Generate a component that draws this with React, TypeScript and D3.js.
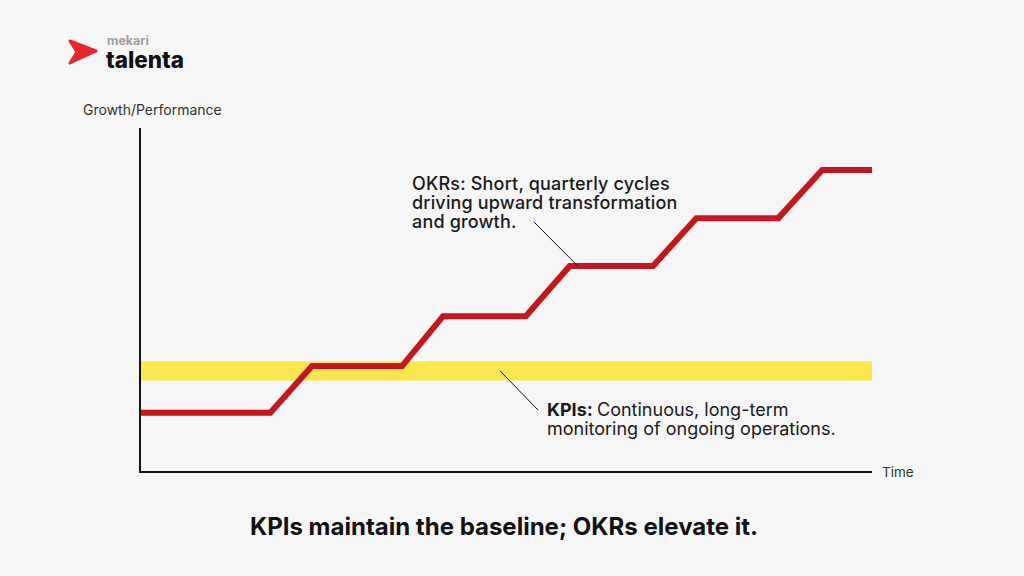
import * as d3 from 'd3'

const width = 1024
const height = 576

// OKR staircase: time (0-100) and growth level (0-100)
const okrTime = [0, 17.8, 23.5, 35.8, 41.4, 52.7, 58.7, 70.1, 76, 87.2, 93.2, 100]
const okrLevel = [17.2, 17.2, 30.8, 30.8, 45.3, 45.3, 59.9, 59.9, 73.8, 73.8, 87.8, 87.8]

// KPI baseline band
const kpiLevel = 29.4
const kpiBand = 2.8

const okrNote = ['OKRs: Short, quarterly cycles', 'driving upward transformation', 'and growth.']
const kpiNote = ['Continuous, long-term', 'monitoring of ongoing operations.']

const font = 'Inter, "Noto Sans", sans-serif'

const x = d3.scaleLinear().domain([0, 100]).range([140, 872])
const y = d3.scaleLinear().domain([0, 100]).range([472, 128])

const okrLine = d3
  .line<number>()
  .x((_, i) => x(okrTime[i]))
  .y((d) => y(d))

function App() {
  return (
    <svg
      width={width}
      height={height}
      style={{ position: 'absolute', left: 0, top: 0, background: '#f6f6f6' }}
    >
      <rect width={width} height={height} fill="#f6f6f6" />

      {/* logo */}
      <path
        d="M70,41 L96,51 L70,63 L77,52 Z"
        fill="#e8262b"
        stroke="#e8262b"
        strokeWidth={3}
        strokeLinejoin="round"
      />
      <text x={107} y={45} fontFamily={font} fontSize={12.5} fontWeight={700} fill="#a0a0a0">
        mekari
      </text>
      <text x={106} y={68} fontFamily={font} fontSize={22.5} fontWeight={800} fill="#111">
        talenta
      </text>

      {/* KPI band */}
      <rect
        x={x(0)}
        y={y(kpiLevel + kpiBand)}
        width={x(100) - x(0)}
        height={y(kpiLevel - kpiBand) - y(kpiLevel + kpiBand)}
        fill="#fbe64b"
      />

      {/* OKR line */}
      <path
        d={okrLine(okrLevel) ?? ''}
        fill="none"
        stroke="#c4161c"
        strokeWidth={6}
        strokeLinejoin="miter"
      />

      {/* axes */}
      <line x1={x(0)} x2={x(0)} y1={y(100)} y2={y(0) + 1} stroke="#111" strokeWidth={2} />
      <line x1={x(0) - 1} x2={x(100)} y1={y(0)} y2={y(0)} stroke="#111" strokeWidth={2} />
      <text x={83} y={115} fontFamily={font} fontSize={14} fill="#333">
        Growth/Performance
      </text>
      <text x={882} y={477} fontFamily={font} fontSize={13.5} fill="#333">
        Time
      </text>

      {/* OKR annotation */}
      <line x1={534} y1={222} x2={x(58.7) + 8} y2={y(59.9)} stroke="#111" strokeWidth={1} />
      {okrNote.map((t, i) => (
        <text
          key={t}
          x={412}
          y={190 + i * 19}
          fontFamily={font}
          fontSize={18}
          fontWeight={500}
          letterSpacing={0.17}
          fill="#1a1a1a"
        >
          {t}
        </text>
      ))}

      {/* KPI annotation */}
      <line x1={500} y1={y(kpiLevel)} x2={538} y2={410} stroke="#111" strokeWidth={1} />
      {kpiNote.map((t, i) => (
        <text key={t} x={547} y={416 + i * 19} fontFamily={font} fontSize={18} fill="#1a1a1a">
          {i === 0 && <tspan fontWeight={700}>KPIs: </tspan>}
          {t}
        </text>
      ))}

      {/* title */}
      <text
        x={width / 2 - 8}
        y={535}
        textAnchor="middle"
        fontFamily={font}
        fontSize={24}
        fontWeight={700}
        fill="#111"
      >
        KPIs maintain the baseline; OKRs elevate it.
      </text>
    </svg>
  )
}

export default App
